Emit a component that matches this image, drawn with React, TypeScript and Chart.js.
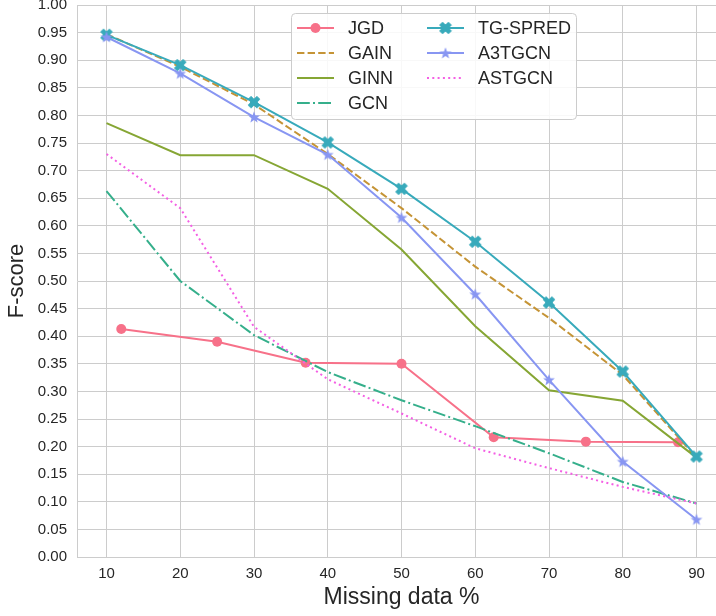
import React, { useEffect, useRef } from "react";
import { Chart, registerables } from "chart.js";

Chart.register(...registerables);

const FONT = "'Liberation Sans', Arial, sans-serif";

const xTicks = [10, 20, 30, 40, 50, 60, 70, 80, 90];
const yTicks = [0, 0.05, 0.1, 0.15, 0.2, 0.25, 0.3, 0.35, 0.4, 0.45, 0.5, 0.55, 0.6, 0.65, 0.7, 0.75, 0.8, 0.85, 0.9, 0.95, 1.0];

const missingX = [10, 20, 30, 40, 50, 60, 70, 80, 90];
const jgdX = [12, 25, 37, 50, 62.5, 75, 87.5];
const jgdY = [0.413, 0.39, 0.352, 0.35, 0.217, 0.209, 0.208];
const gainY = [0.947, 0.888, 0.82, 0.73, 0.632, 0.526, 0.433, 0.33, 0.18];
const ginnY = [0.786, 0.728, 0.728, 0.667, 0.557, 0.418, 0.302, 0.283, 0.18];
const gcnY = [0.663, 0.5, 0.402, 0.335, 0.284, 0.237, 0.188, 0.136, 0.097];
const tgspredY = [0.946, 0.891, 0.824, 0.751, 0.667, 0.571, 0.461, 0.336, 0.182];
const a3tgcnY = [0.942, 0.876, 0.797, 0.729, 0.615, 0.476, 0.321, 0.173, 0.068];
const astgcnY = [0.73, 0.632, 0.417, 0.322, 0.26, 0.197, 0.161, 0.127, 0.097];

const seriesNames = ["JGD", "GAIN", "GINN", "GCN", "TG-SPRED", "A3TGCN", "ASTGCN"];
const seriesColors = ["#f77189", "#c59436", "#86a634", "#35af8b", "#38aabb", "#8896f2", "#f45fe4"];

function makeX(color: string): HTMLCanvasElement {
  const c = document.createElement("canvas");
  c.width = 14;
  c.height = 14;
  const g = c.getContext("2d")!;
  g.translate(7, 7);
  g.rotate(Math.PI / 4);
  const L = 6.2, t = 2.1;
  const pts = [[t, L], [t, t], [L, t], [L, -t], [t, -t], [t, -L], [-t, -L], [-t, -t], [-L, -t], [-L, t], [-t, t], [-t, L]];
  g.beginPath();
  pts.forEach((p, i) => (i === 0 ? g.moveTo(p[0], p[1]) : g.lineTo(p[0], p[1])));
  g.closePath();
  g.fillStyle = color;
  g.fill();
  g.strokeStyle = color;
  g.lineWidth = 0.8;
  g.stroke();
  return c;
}

function makeStar(color: string): HTMLCanvasElement {
  const c = document.createElement("canvas");
  c.width = 14;
  c.height = 14;
  const g = c.getContext("2d")!;
  g.translate(7, 7.5);
  const R = 6.2, r = R * 0.42;
  g.beginPath();
  for (let i = 0; i < 10; i++) {
    const a = -Math.PI / 2 + (i * Math.PI) / 5;
    const rad = i % 2 === 0 ? R : r;
    const px = Math.cos(a) * rad, py = Math.sin(a) * rad;
    i === 0 ? g.moveTo(px, py) : g.lineTo(px, py);
  }
  g.closePath();
  g.fillStyle = color;
  g.fill();
  return c;
}

const pairs = (xs: number[], ys: number[]) => xs.map((x, i) => ({ x, y: ys[i] }));

const legendPlugin = {
  id: "boxLegend",
  afterDraw(chart: any) {
    const ctx = chart.ctx as CanvasRenderingContext2D;
    ctx.save();
    const bx = 291.5, by = 13.5, bw = 285, bh = 106, rr = 4;
    ctx.beginPath();
    ctx.moveTo(bx + rr, by);
    ctx.lineTo(bx + bw - rr, by);
    ctx.arcTo(bx + bw, by, bx + bw, by + rr, rr);
    ctx.lineTo(bx + bw, by + bh - rr);
    ctx.arcTo(bx + bw, by + bh, bx + bw - rr, by + bh, rr);
    ctx.lineTo(bx + rr, by + bh);
    ctx.arcTo(bx, by + bh, bx, by + bh - rr, rr);
    ctx.lineTo(bx, by + rr);
    ctx.arcTo(bx, by, bx + rr, by, rr);
    ctx.closePath();
    ctx.fillStyle = "rgba(255,255,255,0.85)";
    ctx.fill();
    ctx.strokeStyle = "#cccccc";
    ctx.lineWidth = 1;
    ctx.stroke();

    chart.data.datasets.forEach((d: any, i: number) => {
      const col = i < 4 ? 0 : 1;
      const row = i < 4 ? i : i - 4;
      const x0 = col === 0 ? 297 : 427;
      const y = 28 + row * 25;
      ctx.save();
      ctx.strokeStyle = d.borderColor;
      ctx.lineWidth = d.borderWidth;
      ctx.setLineDash(d.borderDash || []);
      ctx.lineCap = "butt";
      ctx.beginPath();
      ctx.moveTo(x0, y);
      ctx.lineTo(x0 + 37, y);
      ctx.stroke();
      ctx.setLineDash([]);
      const ps = d.pointStyle;
      if (d.pointRadius > 0) {
        if (ps === "circle") {
          ctx.beginPath();
          ctx.arc(x0 + 18.5, y, d.pointRadius, 0, Math.PI * 2);
          ctx.fillStyle = d.borderColor;
          ctx.fill();
        } else if (ps && typeof ps === "object") {
          ctx.drawImage(ps, x0 + 18.5 - ps.width / 2, y - ps.height / 2);
        }
      }
      ctx.fillStyle = "#262626";
      ctx.font = `18px ${FONT}`;
      ctx.textAlign = "left";
      ctx.textBaseline = "middle";
      ctx.fillText(d.label, x0 + 51, y + 1);
      ctx.restore();
    });
    ctx.restore();
  },
};

export default function App() {
  const ref = useRef<HTMLCanvasElement>(null);

  useEffect(() => {
    if (!ref.current) return;
    const xImg = makeX(seriesColors[4]);
    const starImg = makeStar(seriesColors[5]);
    const ys = [gainY, ginnY, gcnY, tgspredY, a3tgcnY, astgcnY];
    const dashes: number[][] = [[7.4, 3.2], [], [12.8, 3.2, 2, 3.2], [], [], [2, 3.3]];
    const styles: any[] = ["circle", "circle", "circle", xImg, starImg, "circle"];
    const radii = [0, 0, 0, 6, 6, 0];

    const datasets: any[] = [
      {
        label: seriesNames[0],
        data: pairs(jgdX, jgdY),
        borderColor: seriesColors[0],
        backgroundColor: seriesColors[0],
        borderWidth: 2,
        pointStyle: "circle",
        pointRadius: 5,
        pointBorderWidth: 0,
        pointBackgroundColor: seriesColors[0],
        order: 7,
      },
      ...ys.map((yv, k) => ({
        label: seriesNames[k + 1],
        data: pairs(missingX, yv),
        borderColor: seriesColors[k + 1],
        backgroundColor: seriesColors[k + 1],
        borderWidth: 2,
        borderDash: dashes[k],
        pointStyle: styles[k],
        pointRadius: radii[k],
        pointBorderWidth: 0,
        pointBackgroundColor: seriesColors[k + 1],
        order: 6 - k,
      })),
    ];

    const chart = new Chart(ref.current, {
      type: "line",
      data: { datasets },
      plugins: [legendPlugin],
      options: {
        animation: false,
        responsive: false,
        maintainAspectRatio: false,
        layout: { autoPadding: false, padding: { top: 5, left: 0, right: 0, bottom: 0 } },
        elements: { line: { tension: 0, borderCapStyle: "butt" } },
        plugins: { legend: { display: false }, tooltip: { enabled: false } },
        scales: {
          x: {
            type: "linear",
            min: 6,
            max: 94,
            afterBuildTicks: (s: any) => {
              s.ticks = xTicks.map((v) => ({ value: v }));
            },
            afterFit: (s: any) => {
              s.height = 59;
              s.paddingLeft = 0;
              s.paddingRight = 0;
            },
            grid: { color: "#cccccc", lineWidth: 1, drawTicks: false },
            border: { color: "#cccccc", width: 1 },
            ticks: {
              padding: 8,
              color: "#262626",
              autoSkip: false,
              maxRotation: 0,
              font: { family: FONT, size: 15 },
              callback: (v: any) => String(v),
            },
            title: {
              display: true,
              text: "Missing data %",
              color: "#262626",
              font: { family: FONT, size: 23 },
              padding: { top: 0, bottom: 5 },
            },
          },
          y: {
            type: "linear",
            min: 0,
            max: 1,
            afterBuildTicks: (s: any) => {
              s.ticks = yTicks.map((v) => ({ value: v }));
            },
            afterFit: (s: any) => {
              s.width = 77;
              s.paddingTop = 0;
              s.paddingBottom = 0;
            },
            grid: { color: "#cccccc", lineWidth: 1, drawTicks: false },
            border: { color: "#cccccc", width: 1 },
            ticks: {
              padding: 10,
              color: "#262626",
              autoSkip: false,
              font: { family: FONT, size: 15 },
              callback: (v: any) => Number(v).toFixed(2),
            },
            title: {
              display: true,
              text: "F-score",
              color: "#262626",
              font: { family: FONT, size: 22 },
              padding: { top: 4, bottom: 0 },
            },
          },
        },
      } as any,
    });
    return () => chart.destroy();
  }, []);

  return (
    <div
      style={{
        position: "fixed",
        left: 0,
        top: 0,
        width: 716,
        height: 616,
        overflow: "hidden",
        background: "#ffffff",
      }}
    >
      <canvas
        ref={ref}
        width={726}
        height={616}
        style={{ display: "block", width: 726, height: 616 }}
      />
    </div>
  );
}
